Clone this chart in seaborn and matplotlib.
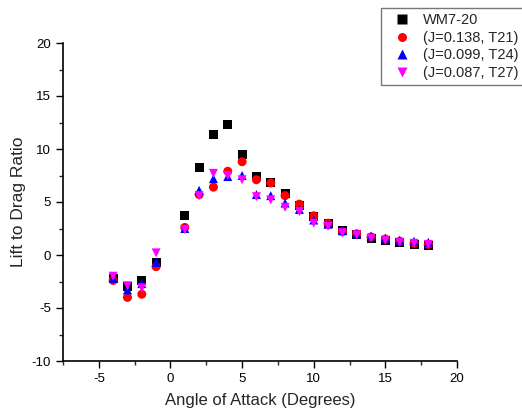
import matplotlib
matplotlib.use("Agg")
import matplotlib.pyplot as plt
from matplotlib.ticker import MultipleLocator
import seaborn as sns
import pandas as pd

angle = [-4, -3, -2, -1, 1, 2, 3, 4, 5, 6, 7, 8, 9, 10, 11, 12, 13, 14, 15, 16, 17, 18]
wm7_20 = [-2.2, -3.0, -2.4, -0.7, 3.7, 8.3, 11.4, 12.3, 9.5, 7.4, 6.8, 5.8, 4.7, 3.6, 3.0, 2.3, 1.9, 1.6, 1.4, 1.2, 1.0, 0.9]
t21 = [-2.4, -4.0, -3.7, -1.1, 2.6, 5.7, 6.4, 7.9, 8.8, 7.1, 6.8, 5.6, 4.8, 3.7, 3.0, 2.2, 2.0, 1.7, 1.5, 1.3, 1.1, 1.0]
t24 = [-2.2, -3.3, -2.7, -0.7, 2.5, 6.1, 7.2, 7.4, 7.5, 5.7, 5.6, 4.9, 4.3, 3.3, 2.9, 2.3, 2.0, 1.8, 1.6, 1.4, 1.3, 1.2]
t27 = [-2.0, -2.9, -3.1, 0.2, 2.4, 5.6, 7.7, 7.5, 7.1, 5.5, 5.2, 4.5, 4.1, 3.0, 2.7, 2.1, 1.9, 1.6, 1.4, 1.2, 1.1, 1.0]

series_names = ["WM7-20", "(J=0.138, T21)", "(J=0.099, T24)", "(J=0.087, T27)"]
series_vals = [wm7_20, t21, t24, t27]
colors = ["black", "red", "blue", "magenta"]
markers = ["s", "o", "^", "v"]

rows = []
for name, vals in zip(series_names, series_vals):
    for a, v in zip(angle, vals):
        rows.append({"Angle": a, "LD": v, "Series": name})
df = pd.DataFrame(rows)

sns.set_theme(style="ticks")
plt.rcParams['font.family'] = ['Liberation Sans', 'DejaVu Sans']
plt.rcParams['axes.unicode_minus'] = False

fig = plt.figure(figsize=(5.22, 4.13), dpi=100)
ax = fig.add_axes([63/522, (413-361)/413, (457-63)/522, (361-43)/413])

sns.scatterplot(data=df, x="Angle", y="LD", hue="Series", style="Series",
                palette=dict(zip(series_names, colors)),
                markers=dict(zip(series_names, markers)),
                s=42, edgecolor="none", ax=ax, legend=True)

ax.set_xlim(-7.5, 20)
ax.set_ylim(-10, 20)
ax.xaxis.set_major_locator(MultipleLocator(5))
ax.xaxis.set_minor_locator(MultipleLocator(2.5))
ax.yaxis.set_major_locator(MultipleLocator(5))
ax.yaxis.set_minor_locator(MultipleLocator(2.5))
ax.tick_params(which="major", direction="out", length=5, width=1, labelsize=9.5, colors="black")
ax.tick_params(which="minor", direction="out", length=3, width=1)
for s in ["top", "right"]:
    ax.spines[s].set_visible(False)
for s in ["left", "bottom"]:
    ax.spines[s].set_linewidth(1.2)
    ax.spines[s].set_color("black")
ax.set_xlabel("Angle of Attack (Degrees)", fontsize=12, labelpad=6)
ax.set_ylabel("Lift to Drag Ratio", fontsize=12.5, labelpad=4)

h, l = ax.get_legend_handles_labels()
ax.get_legend().remove()
leg = fig.legend(h, l, loc="upper left", bbox_to_anchor=(381/522, 1 - 8/413),
                 borderaxespad=0, frameon=True, fontsize=10.5, fancybox=False,
                 edgecolor="#555555", borderpad=0.35, labelspacing=0.25,
                 handlelength=2.2, handletextpad=0.3, markerscale=1.0)
leg.get_frame().set_linewidth(1.0)

fig.savefig("out.png", dpi=100)
